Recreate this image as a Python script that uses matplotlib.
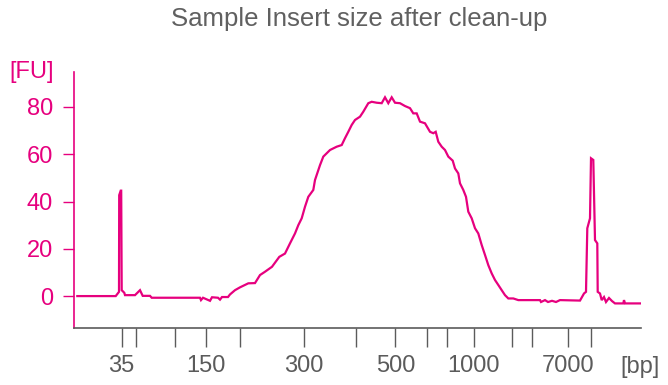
import matplotlib
matplotlib.use("Agg")
import matplotlib.pyplot as plt

# Migration position (arbitrary units) and fluorescence [FU]
pos = [77.3, 115.7, 119.0, 119.2, 120.7, 121.2, 121.7, 124.3, 125.0, 135.0, 140.0, 142.7,
       150.0, 151.7, 200.0, 201.0, 203.0, 210.0, 212.0, 218.0, 220.0, 222.0, 228.0, 230.0,
       235.0, 240.0, 248.3, 255.0, 260.0, 265.0, 272.0, 279.3, 285.0, 290.0, 295.0, 298.3,
       301.7, 305.0, 308.3, 313.3, 315.0, 320.0, 323.3, 330.0, 336.7, 341.7, 345.0, 348.3,
       351.7, 355.0, 360.0, 363.3, 368.3, 371.7, 376.7, 381.7, 385.0, 388.3, 391.7, 395.0,
       400.0, 405.0, 410.0, 413.3, 416.7, 420.0, 425.0, 430.0, 433.3, 435.7, 438.3, 441.7,
       445.0, 448.3, 452.7, 455.0, 458.3, 460.0, 463.3, 466.0, 468.3, 471.7, 475.0, 478.3,
       481.7, 485.0, 488.3, 491.7, 495.0, 498.3, 501.7, 505.0, 508.3, 513.3, 518.3, 528.3,
       540.0, 541.0, 545.0, 548.0, 552.0, 556.0, 560.0, 580.0, 584.0, 586.0, 587.3, 590.0,
       591.0, 593.3, 595.0, 597.3, 597.7, 600.0, 601.7, 604.0, 606.0, 609.0, 612.0, 615.0,
       623.3, 624.0, 625.0, 640.0]
fu = [0.0, 0.0, 1.8, 42.7, 44.6, 44.6, 2.5, 1.4, 0.4, 0.4, 2.5, 0.1,
      0.1, -0.7, -0.7, -1.7, -0.7, -2.0, -0.5, -0.7, -1.5, -0.4, -0.4, 0.7,
      2.5, 3.7, 5.4, 5.5, 8.9, 10.3, 12.4, 16.6, 18.0, 22.3, 26.5, 30.0,
      32.9, 37.8, 42.0, 44.9, 49.1, 55.4, 59.0, 61.8, 63.2, 63.9, 66.8, 69.5,
      72.4, 74.5, 75.9, 78.0, 81.6, 82.2, 81.8, 81.6, 84.1, 81.6, 84.1, 81.8,
      81.6, 80.4, 79.5, 77.3, 77.3, 73.8, 73.1, 69.5, 68.9, 69.5, 65.3, 63.2,
      61.8, 59.0, 57.3, 54.0, 51.9, 47.7, 44.9, 42.0, 35.7, 32.9, 28.7, 26.5,
      21.6, 17.4, 13.1, 9.6, 6.8, 4.7, 2.5, 0.4, -1.0, -1.0, -1.7, -1.7,
      -1.7, -2.5, -1.7, -2.5, -2.0, -2.5, -1.7, -1.9, 1.1, 1.8, 28.7, 32.9,
      58.3, 57.6, 23.7, 22.3, 1.8, 1.1, -1.7, -0.4, -2.5, -0.8, -2.1, -3.1,
      -3.1, -1.7, -3.1, -3.1]

# Ladder positions and labels
ladder_pos = [121.7, 136.3, 174.7, 206.3, 239.7, 303.7, 356.3, 395.3, 426.7, 447.3,
              473.7, 512.3, 532.3, 567.7, 591.3]
ladder_lbl = ["35", "", "", "150", "", "300", "", "500", "", "", "1000", "", "", "7000", ""]
y_ticks = [0, 20, 40, 60, 80]

MAG = "#E6007E"
GRAY = "#5b5b5b"
plt.rcParams['font.family'] = ['Liberation Sans', 'DejaVu Sans']

W, H = 668, 385
fig = plt.figure(figsize=(W / 100, H / 100), dpi=100)
ax = fig.add_axes([74 / W, 1 - 328 / H, (641 - 74) / W, (328 - 72) / H])

ax.plot(pos, fu, color=MAG, lw=1.6, solid_joinstyle='miter')
ax.set_xlim(74, 641)
ax.set_ylim(-13.5, 94.8)

for s in ['top', 'right']:
    ax.spines[s].set_visible(False)
ax.spines['left'].set_color(MAG)
ax.spines['left'].set_linewidth(1.2)
ax.spines['bottom'].set_color(GRAY)
ax.spines['bottom'].set_linewidth(1.2)

ax.set_yticks(y_ticks)
ax.set_yticklabels([str(v) for v in y_ticks])
ax.tick_params(axis='y', direction='out', length=8, width=1.0, color=MAG,
               labelcolor=MAG, labelsize=17, pad=7)
ax.set_xticks(ladder_pos)
ax.set_xticklabels(ladder_lbl)
ax.tick_params(axis='x', direction='out', length=13.5, width=1.0, color=GRAY,
               labelcolor=GRAY, labelsize=17, pad=6)

fig.text(32 / W, 1 - 72 / H, "[FU]", color=MAG, fontsize=17, ha='center', va='center')
fig.text(640 / W, 1 - 367 / H, "[bp]", color=GRAY, fontsize=17, ha='center', va='center')
fig.text(359 / W, 1 - 19 / H, "Sample Insert size after clean-up", color="#606060",
         fontsize=18.5, ha='center', va='center')

fig.savefig("out.png", dpi=100)
